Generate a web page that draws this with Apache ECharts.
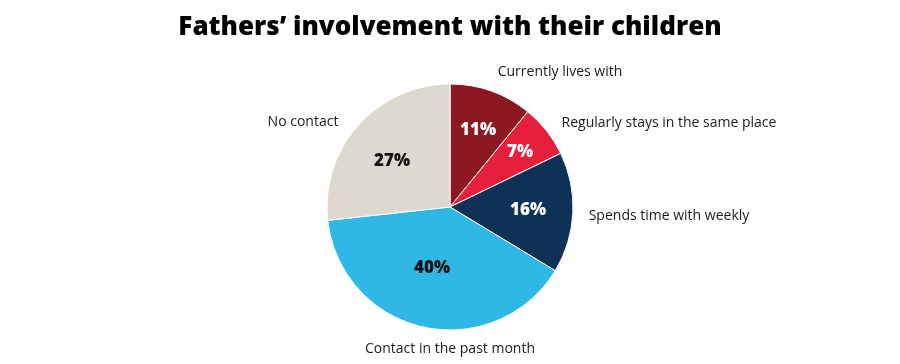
<!DOCTYPE html>
<html>
<head>
<meta charset="utf-8">
<script src="https://cdn.jsdelivr.net/npm/echarts@6/dist/echarts.min.js"></script>
<style>
html,body{margin:0;padding:0;background:#fff;}
#chart{width:900px;height:364px;}
</style>
</head>
<body>
<div id="chart"></div>
<script>
const categories = ['Currently lives with', 'Regularly stays in the same place', 'Spends time with weekly', 'Contact in the past month', 'No contact'];
const values = [11, 7, 16, 40, 27];
const pctLabels = ['11%', '7%', '16%', '40%', '27%'];

const colors = ['#8C1921', '#E61F3C', '#0E3158', '#2FB8E6', '#DDD9D1'];
const pctColors = ['#fff', '#fff', '#fff', '#111', '#111'];
const insidePos = [[478, 130], [520, 152], [528, 210], [432, 268], [392, 161]];
const outsidePos = [[560, 72], [669, 123], [669, 216], [450, 349], [303, 122]];

const chart = echarts.init(document.getElementById('chart'), null, {renderer: 'canvas'});
const FONT = 'Open Sans';

chart.setOption({
  animation: false,
  title: {
    text: 'Fathers\u2019 involvement with their children',
    left: 'center',
    top: 10,
    textStyle: {fontFamily: FONT, fontWeight: 800, fontSize: 26, color: '#000'}
  },
  series: [
    {
      type: 'pie',
      center: [450, 207],
      radius: 123,
      startAngle: 90,
      clockwise: true,
      silent: true,
      itemStyle: {borderColor: '#fff', borderWidth: 1},
      data: categories.map((c, i) => ({
        name: c, value: values[i],
        itemStyle: {color: colors[i]},
        label: {color: pctColors[i]}
      })),
      label: {
        show: true,
        position: 'inside',
        formatter: p => pctLabels[p.dataIndex],
        fontFamily: FONT, fontWeight: 800, fontSize: 17
      },
      labelLine: {show: false},
      labelLayout: p => ({x: insidePos[p.dataIndex][0], y: insidePos[p.dataIndex][1], align: 'center', verticalAlign: 'middle'})
    },
    {
      type: 'pie',
      center: [450, 207],
      radius: 123,
      startAngle: 90,
      clockwise: true,
      silent: true,
      itemStyle: {color: 'transparent', borderWidth: 0},
      data: categories.map((c, i) => ({name: c, value: values[i]})),
      label: {
        show: true,
        position: 'outside',
        formatter: '{b}',
        fontFamily: FONT, fontSize: 14, color: '#1a1a1a'
      },
      labelLine: {show: false},
      labelLayout: p => ({x: outsidePos[p.dataIndex][0], y: outsidePos[p.dataIndex][1], align: 'center', verticalAlign: 'middle'})
    }
  ]
});
</script>
</body>
</html>
